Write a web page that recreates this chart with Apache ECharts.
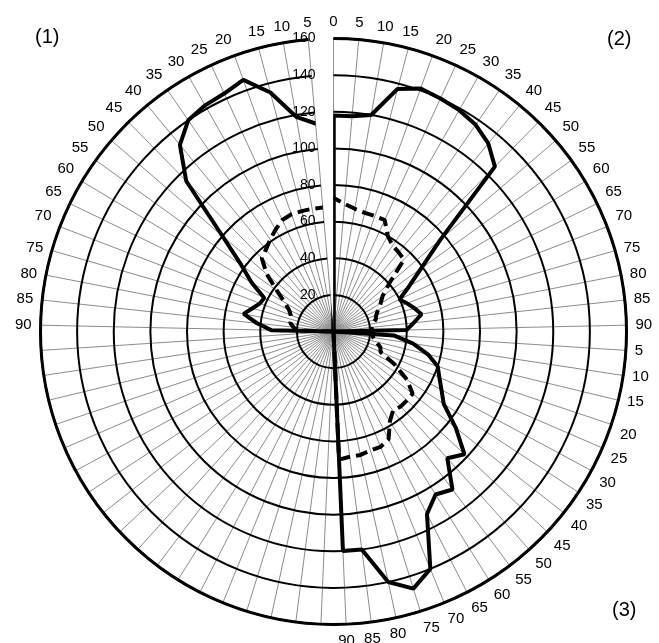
<!DOCTYPE html>
<html><head><meta charset="utf-8">
<script src="https://cdn.jsdelivr.net/npm/echarts@6/dist/echarts.min.js"></script>
<style>html,body{margin:0;padding:0;background:#fff}#c{width:659px;height:643px}</style>
</head><body><div id="c"></div>
<script>
// Tick labels (73 equally spaced categories, clockwise from top)
const topLabel = ['0'];
const rightLabels = ['5','10','15','20','25','30','35','40','45','50','55','60','65','70','75','80','85','90'];
const lowerRightLabels = ['5','10','15','20','25','30','35','40','45','50','55','60','65','70','75','80','85','90'];
const lowerLeftLabels = ['','','','','','','','','','','','','','','','','',''];
const leftLabels = ['90','85','80','75','70','65','60','55','50','45','40','35','30','25','20','15','10','5'];
const radiusTicks = [20,40,60,80,100,120,140,160];

// Series values
// plane (1): angles 0,5,...,90 on the left
const plane1 = [118,114,119,135,146,143,142,140,132,115,80,62,52,42,43,46,50,42,34];
// plane (2): angles 0,5,...,90 on the right
const plane2 = [118,118,120,137,141,140,139,137,133,126,77,59,48,40,43,46,49,44,40];
// plane (3): angles 5,...,90 lower right
const plane3 = [33,44,53,60,63,67,72,85,98,93,108,105,112,140,147,140,120,120];
// dashed curve
const dashedLeft = [73,68,68,68,68,67,64,61,58,56,48,38,31,27,25,24,24,22,20];   // 0..90 left
const dashedRight = [73,70,68,67,67,67,60,57,56,55,40,33,30,27,25,24,22,21,21];  // 0..90 right
const dashedLower = [21,22,24,27,28,38,48,55,55,55,54,58,66,68,68,69,69,70];     // 5..90 lower right

const categories = [].concat(topLabel, rightLabels, lowerRightLabels, lowerLeftLabels, leftLabels);
const N = categories.length; // 73
const idxRight = k => k;          // k = 0..18 (angle k*5)
const idxLower = k => 18 + k;     // k = 1..18
const idxLeft = k => (k === 0 ? 0 : N - k); // k = 0..18

function s1() {
  const d = [[0, idxLeft(18) - 1]];
  for (let k = 18; k >= 1; k--) d.push([plane1[k], idxLeft(k)]);
  d.push([plane1[0], 0]);
  d.push([0, 1]);
  return d;
}
function s2() {
  const d = [[0, N - 1]];
  for (let k = 0; k <= 18; k++) d.push([plane2[k], idxRight(k)]);
  d.push([0, 19]);
  return d;
}
function s3() {
  const d = [[0, 18]];
  for (let k = 1; k <= 18; k++) d.push([plane3[k - 1], idxLower(k)]);
  d.push([0, 37]);
  return d;
}
function sd() {
  const d = [[0, idxLeft(18) - 1]];
  for (let k = 18; k >= 1; k--) d.push([dashedLeft[k], idxLeft(k)]);
  d.push([dashedLeft[0], 0]);
  for (let k = 1; k <= 18; k++) d.push([dashedRight[k], idxRight(k)]);
  for (let k = 1; k <= 18; k++) d.push([dashedLower[k - 1], idxLower(k)]);
  d.push([0, 37]);
  return d;
}

const FONT = 'Liberation Sans, Arial, sans-serif';
const chart = echarts.init(document.getElementById('c'), null, {renderer: 'canvas'});
const lineBase = {type: 'line', coordinateSystem: 'polar', symbol: 'none', smooth: false, silent: true, animation: false};
chart.setOption({
  animation: false,
  backgroundColor: '#fff',
  polar: {center: [333.5, 331.5], radius: 293},
  angleAxis: {
    type: 'category', data: categories, startAngle: 90, clockwise: true, boundaryGap: false,
    axisLine: {show: true, lineStyle: {color: '#000', width: 3}},
    axisTick: {show: false},
    axisLabel: {show: true, interval: 0, margin: 9, color: '#000', fontSize: 15, fontFamily: FONT},
    splitLine: {show: true, interval: 0, lineStyle: {color: '#8c8c8c', width: 1}},
    z: 1
  },
  radiusAxis: {
    type: 'value', min: 0, max: 160, interval: 20,
    axisLine: {show: false}, axisTick: {show: false},
    axisLabel: {show: true, margin: 18, color: '#000', fontSize: 14, fontFamily: FONT,
      formatter: v => (radiusTicks.indexOf(v) >= 0 ? String(v) : '')},
    splitLine: {show: true, lineStyle: {color: '#000', width: 2}},
    z: 10
  },
  graphic: [
    {type: 'text', left: 35, top: 27, style: {text: '(1)', font: '20px ' + FONT, fill: '#000'}},
    {type: 'text', left: 607, top: 29, style: {text: '(2)', font: '20px ' + FONT, fill: '#000'}},
    {type: 'text', left: 612, top: 600, style: {text: '(3)', font: '20px ' + FONT, fill: '#000'}}
  ],
  series: [
    Object.assign({}, lineBase, {name: 'dashed', data: sd(), lineStyle: {color: '#000', width: 4, type: [12, 6]}, z: 3}),
    Object.assign({}, lineBase, {name: '(1)', data: s1(), lineStyle: {color: '#000', width: 4}, z: 4}),
    Object.assign({}, lineBase, {name: '(2)', data: s2(), lineStyle: {color: '#000', width: 4}, z: 4}),
    Object.assign({}, lineBase, {name: '(3)', data: s3(), lineStyle: {color: '#000', width: 4}, z: 4})
  ]
});
</script></body></html>
